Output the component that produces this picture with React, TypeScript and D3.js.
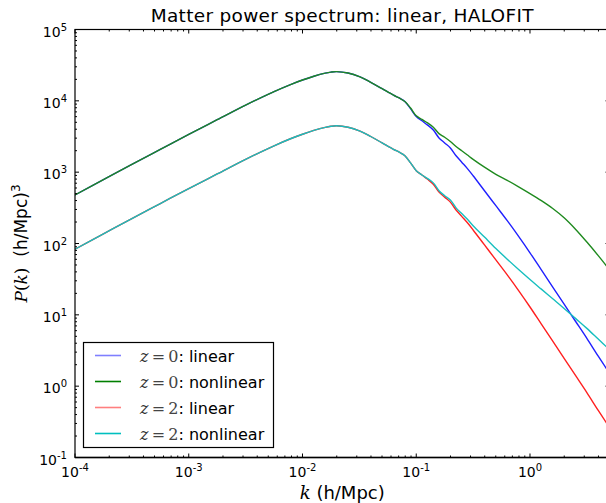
import React from "react";
import * as d3 from "d3";

// log10(k [h/Mpc])
const logK = [-4, -3.75, -3.5, -3.25, -3, -2.75, -2.5, -2.25, -2.1, -2, -1.9, -1.8, -1.75, -1.7, -1.6, -1.5, -1.4, -1.3, -1.2, -1.15, -1.1,
  -1.05, -1.0, -0.95, -0.9, -0.85, -0.8, -0.75, -0.7, -0.65, -0.6, -0.55, -0.5,
  -0.4, -0.3, -0.2, -0.1, 0, 0.1, 0.2, 0.3, 0.4, 0.5, 0.6, 0.7];
// log10(P(k) [(Mpc/h)^3])
const logPz0Lin = [2.68, 2.895, 3.11, 3.32, 3.53, 3.735, 3.94, 4.13, 4.232, 4.292, 4.345, 4.388, 4.403, 4.41, 4.39, 4.34, 4.26, 4.17, 4.08, 4.04, 3.99,
  3.89, 3.78, 3.72, 3.66, 3.59, 3.48, 3.41, 3.34, 3.23, 3.14, 3.05, 2.95,
  2.74, 2.53, 2.32, 2.10, 1.87, 1.63, 1.39, 1.15, 0.91, 0.67, 0.42, 0.18];
const logPz0NL = [2.68, 2.895, 3.11, 3.32, 3.53, 3.735, 3.94, 4.13, 4.232, 4.292, 4.345, 4.388, 4.403, 4.41, 4.39, 4.34, 4.26, 4.17, 4.08, 4.04, 3.99,
  3.90, 3.79, 3.74, 3.69, 3.63, 3.54, 3.49, 3.43, 3.36, 3.30, 3.24, 3.18,
  3.07, 2.97, 2.885, 2.795, 2.70, 2.60, 2.49, 2.36, 2.20, 2.02, 1.83, 1.63];
const logPz2Lin = [1.92, 2.135, 2.35, 2.56, 2.77, 2.975, 3.18, 3.37, 3.472, 3.532, 3.585, 3.628, 3.643, 3.65, 3.63, 3.58, 3.50, 3.41, 3.32, 3.28, 3.23,
  3.13, 3.02, 2.96, 2.90, 2.83, 2.72, 2.65, 2.58, 2.47, 2.38, 2.29, 2.19,
  1.98, 1.77, 1.56, 1.34, 1.11, 0.87, 0.63, 0.39, 0.15, -0.09, -0.34, -0.58];
const logPz2NL = [1.92, 2.135, 2.35, 2.56, 2.77, 2.975, 3.18, 3.37, 3.472, 3.532, 3.585, 3.628, 3.643, 3.65, 3.63, 3.58, 3.50, 3.41, 3.32, 3.28, 3.23,
  3.13, 3.02, 2.96, 2.91, 2.85, 2.74, 2.67, 2.61, 2.50, 2.42, 2.34, 2.25,
  2.09, 1.93, 1.78, 1.635, 1.495, 1.36, 1.225, 1.09, 0.95, 0.81, 0.66, 0.51];

const seriesNames = ["z=0", "z=0", "z=2", "z=2"];
const seriesKinds = ["linear", "nonlinear", "linear", "nonlinear"];
const seriesData = [logPz0Lin, logPz0NL, logPz2Lin, logPz2NL];
const seriesColors = ["#2020ff", "#1f8a1f", "#ff2020", "#17bfbf"];
const legendColors = ["#7f7fff", "#007f00", "#ff7f7f", "#00bfbf"];

const xTickExps = [-4, -3, -2, -1, 0];
const yTickExps = [-1, 0, 1, 2, 3, 4, 5];
const titleText = "Matter power spectrum: linear, HALOFIT";

const W = 606, H = 503;
const L = 75, R = 609.5, T = 29.5, B = 457.5;

export default function App() {
  const x = d3.scaleLog().domain([1e-4, 5]).range([L, R]);
  const y = d3.scaleLog().domain([0.1, 1e5]).range([B, T]);
  const line = d3
    .line<[number, number]>()
    .x((d) => x(Math.pow(10, d[0])))
    .y((d) => y(Math.pow(10, d[1])))
    .curve(d3.curveCatmullRom.alpha(0.5));

  const xMinor: number[] = [];
  for (let e = -4; e <= 0; e++) for (let m = 2; m <= 9; m++) { const v = m * Math.pow(10, e); if (v <= 5) xMinor.push(v); }
  const yMinor: number[] = [];
  for (let e = -1; e < 5; e++) for (let m = 2; m <= 9; m++) yMinor.push(m * Math.pow(10, e));

  const font = "'DejaVu Sans', sans-serif";
  const serif = "'DejaVu Serif', serif";

  return (
    <svg width={W} height={H} style={{ position: "absolute", left: 0, top: 0, background: "#fff" }} fontFamily={font}>
      <defs>
        <clipPath id="plotclip"><rect x={L} y={T} width={R - L} height={B - T} /></clipPath>
      </defs>
      <rect x={0} y={0} width={W} height={H} fill="#fff" />
      <g clipPath="url(#plotclip)">
        {seriesData.map((s, i) => (
          <path key={i} d={line(logK.map((k, j) => [k, s[j]] as [number, number])) || ""} fill="none" stroke={seriesColors[i]} strokeWidth={1.4} />
        ))}
      </g>
      {/* spines */}
      <rect x={L} y={T} width={R - L} height={B - T} fill="none" stroke="#000" strokeWidth={1.2} />
      <line x1={L} x2={R} y1={B} y2={B} stroke="#000" strokeWidth={1.6} />
      {/* x ticks */}
      {xTickExps.map((e) => {
        const px = x(Math.pow(10, e));
        return (
          <g key={"xt" + e}>
            <line x1={px} x2={px} y1={B} y2={B - 4} stroke="#000" />
            <line x1={px} x2={px} y1={T} y2={T + 4} stroke="#000" />
            <text x={px} y={477} textAnchor="middle" fontSize={14}>
              10<tspan dy={-6} fontSize={10}>{String(e)}</tspan>
            </text>
          </g>
        );
      })}
      {xMinor.map((v, i) => {
        const px = x(v);
        return (
          <g key={"xm" + i}>
            <line x1={px} x2={px} y1={B} y2={B - 2} stroke="#000" />
            <line x1={px} x2={px} y1={T} y2={T + 2} stroke="#000" />
          </g>
        );
      })}
      {/* y ticks */}
      {yTickExps.map((e) => {
        const py = y(Math.pow(10, e));
        return (
          <g key={"yt" + e}>
            <line x1={L} x2={L + 4} y1={py} y2={py} stroke="#000" />
            <line x1={R} x2={R - 4} y1={py} y2={py} stroke="#000" />
            <text x={67} y={py + 7} textAnchor="end" fontSize={14}>
              10<tspan dy={-6} fontSize={10}>{String(e)}</tspan>
            </text>
          </g>
        );
      })}
      {yMinor.map((v, i) => {
        const py = y(v);
        return (
          <g key={"ym" + i}>
            <line x1={L} x2={L + 2} y1={py} y2={py} stroke="#000" />
            <line x1={R} x2={R - 2} y1={py} y2={py} stroke="#000" />
          </g>
        );
      })}
      {/* title */}
      <text x={(L + R) / 2} y={22} textAnchor="middle" fontSize={18.5} letterSpacing={0.3}>{titleText}</text>
      {/* x label */}
      <text x={(L + R) / 2} y={499} textAnchor="middle" fontSize={18}>
        <tspan fontFamily={serif} fontStyle="italic">k</tspan> (h/Mpc)
      </text>
      {/* y label */}
      <text transform={`translate(27, ${(T + B) / 2}) rotate(-90)`} textAnchor="middle" fontSize={17}>
        <tspan fontFamily={serif} fontStyle="italic">P</tspan>
        <tspan fontFamily={serif}>(</tspan>
        <tspan fontFamily={serif} fontStyle="italic">k</tspan>
        <tspan fontFamily={serif}>)</tspan>
        {"\u00a0\u00a0(h/Mpc)"}
        <tspan dy={-7} fontSize={12}>3</tspan>
      </text>
      {/* legend */}
      <rect x={83.5} y={342.5} width={190} height={105} fill="#fff" stroke="#000" strokeWidth={1.2} />
      {seriesNames.map((n, i) => {
        const ry = 355.5 + i * 26;
        return (
          <g key={"lg" + i}>
            <line x1={95} x2={121} y1={ry} y2={ry} stroke={legendColors[i]} strokeWidth={1.6} />
            <text x={140} y={ry + 6} fontSize={16}>
              <tspan fontFamily={serif} fontStyle="italic" fill="#333">{n.slice(0, 1)}</tspan>
              <tspan fontFamily={serif} fill="#444">{"\u2009=\u2009" + n.slice(2)}</tspan>
              {": " + seriesKinds[i]}
            </text>
          </g>
        );
      })}
    </svg>
  );
}
